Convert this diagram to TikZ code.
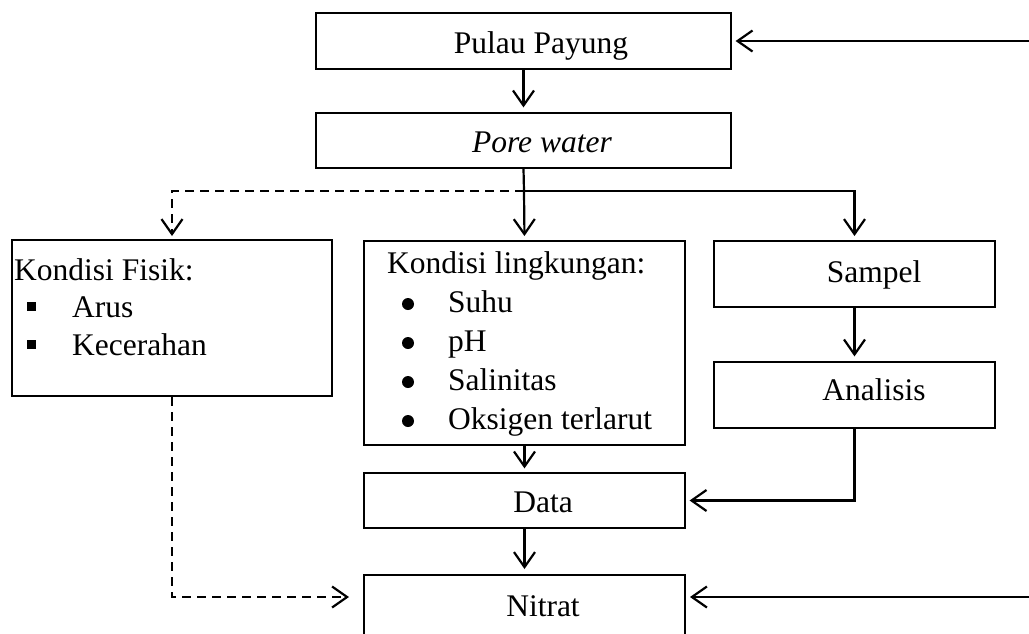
\documentclass[tikz,border=0pt]{standalone}
\usepackage{fontspec}
\setmainfont{Liberation Serif}
\usetikzlibrary{arrows.meta}
\begin{document}
\begin{tikzpicture}[x=1pt,y=-1pt,
  thinbox/.style={draw=black, line width=1.2pt, rectangle, inner sep=0pt},
  thickbox/.style={draw=black, line width=2pt, rectangle, inner sep=0pt},
  txt/.style={inner sep=0pt, font=\fontsize{31.5}{38}\selectfont},
  conn/.style={line width=2.2pt, -{Straight Barb[length=15pt,width=21pt,line width=2.2pt]}},
  dconn/.style={conn, dash pattern=on 9pt off 6pt},
  plain/.style={line width=2.2pt}
]
\useasboundingbox (0,0) rectangle (1029,633);

% boxes
\node[thinbox, minimum width=415pt, minimum height=56pt] (pulau) at (523.5,41) {};
\node[thinbox, minimum width=415pt, minimum height=55pt] (pore) at (523.5,140.5) {};
\node[thickbox, minimum width=320pt, minimum height=156pt] (fisik) at (172,318) {};
\node[thickbox, minimum width=321pt, minimum height=204pt] (ling) at (524.5,343) {};
\node[thickbox, minimum width=281pt, minimum height=66pt] (sampel) at (854.5,274) {};
\node[thinbox, minimum width=281pt, minimum height=66pt] (analisis) at (854.5,395) {};
\node[thinbox, minimum width=321pt, minimum height=55pt] (data) at (524.5,500.5) {};
\node[thickbox, minimum width=321pt, minimum height=75pt] (nitrat) at (524.5,612.5) {};

% texts
\node[txt, anchor=base] (tpulau) at (541,53) {Pulau Payung};
\node[txt, anchor=base] (tpore) at (542,152) {\itshape Pore water};
\node[txt, anchor=base west] (tfisik) at (14,280) {Kondisi Fisik:};
\node[txt, anchor=base west] (tarus) at (72,317) {Arus};
\node[txt, anchor=base west] (tkec) at (72,355) {Kecerahan};
\node[txt, anchor=base west] (tling) at (387,273) {Kondisi lingkungan:};
\node[txt, anchor=base west] (tsuhu) at (448,312) {Suhu};
\node[txt, anchor=base west] (tph) at (448,351) {pH};
\node[txt, anchor=base west] (tsal) at (448,390) {Salinitas};
\node[txt, anchor=base west] (toks) at (448,429) {Oksigen terlarut};
\node[txt, anchor=base] (tsampel) at (874,282) {Sampel};
\node[txt, anchor=base] (tanal) at (874,400) {Analisis};
\node[txt, anchor=base] (tdata) at (543,512) {Data};
\node[txt, anchor=base] (tnitrat) at (543,616) {Nitrat};

% bullets
\fill (26.5,301.5) rectangle (35.5,310.5);
\fill (26.5,339.5) rectangle (35.5,348.5);
\foreach \yy in {304,343,382,421} \fill (408,\yy) circle (6pt);

% coordinates
\coordinate (j) at (524,191);
\coordinate (r1) at (1029,41);
\coordinate (r2) at (1029,597);

% connectors
\draw[conn, shorten >=5pt] (pulau.south) -- (pore.north);
\draw[plain] (pore.south) -- (j);
\draw[conn, shorten >=4pt] (j) -- (ling.north);
\draw[conn, shorten >=4pt] (j) -| (sampel.north);
\draw[dconn, shorten >=3pt] (j) -| (fisik.north);
\draw[conn, shorten >=5pt] (sampel.south) -- (analisis.north);
\draw[conn, shorten >=4pt] (analisis.south) |- (data.east);
\draw[conn, shorten >=4pt] (ling.south) -- (data.north);
\draw[conn, shorten >=5pt] (data.south) -- (nitrat.north);
\draw[dconn, shorten >=14pt] (fisik.south) |- ([yshift=15.5pt]nitrat.west);
\draw[conn, shorten >=4pt] (r1) -- (pulau.east);
\draw[conn, shorten >=4pt] (r2) -- ([yshift=15.5pt]nitrat.east);
\end{tikzpicture}
\end{document}
